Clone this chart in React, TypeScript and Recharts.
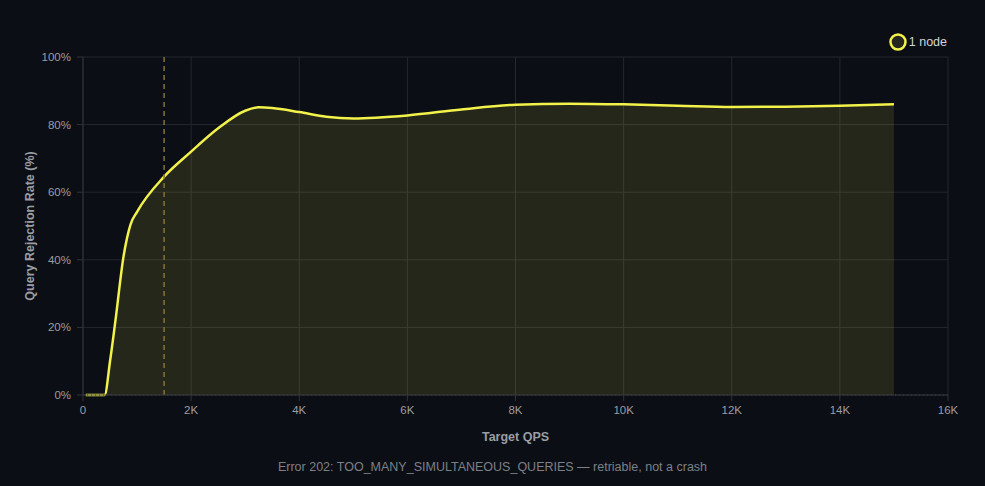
import { ComposedChart, Area, XAxis, YAxis, CartesianGrid, ReferenceLine } from 'recharts';

const qps = [50, 400, 500, 600, 750, 880, 1000, 1500, 2000, 2500, 3000, 3250, 3500, 4000, 4500, 5000, 6000, 7000, 8000, 9000, 10000, 11000, 12000, 13000, 14000, 15000];
const rejectionRate = [0, 0, 10, 22, 41, 50.5, 54.2, 64.6, 72, 78.9, 84.1, 85.1, 84.9, 83.7, 82.3, 81.8, 82.7, 84.5, 85.9, 86.2, 86, 85.6, 85.2, 85.3, 85.6, 86];
const xTicks = [0, 2000, 4000, 6000, 8000, 10000, 12000, 14000, 16000];
const yTicks = [0, 20, 40, 60, 80, 100];
const saturationQps = 1500;
const seriesName = '1 node';
const footnote = 'Error 202: TOO_MANY_SIMULTANEOUS_QUERIES \u2014 retriable, not a crash';

const data = qps.map((q, i) => ({ qps: q, rate: rejectionRate[i] }));

const YELLOW = '#f2f24a';
const FONT = 'Helvetica, Arial, "Liberation Sans", sans-serif';

export default function App() {
  return (
    <div style={{ position: 'absolute', left: 0, top: 0, width: 985, height: 486, background: '#0b0e15', fontFamily: FONT }}>
      <ComposedChart width={985} height={486} data={data} margin={{ top: 57, right: 37, bottom: 31, left: 0 }}>
        <CartesianGrid stroke="#24272d" />
        <XAxis
          dataKey="qps"
          type="number"
          domain={[0, 16000]}
          ticks={xTicks}
          tickFormatter={(v: number) => (v === 0 ? '0' : `${v / 1000}K`)}
          stroke="#30333a"
          tick={{ fill: '#9a9da3', fontSize: 11.5 }}
          tickSize={6}
          tickMargin={5}
          height={60}
          label={{ value: 'Target QPS', position: 'insideBottom', offset: 14, fill: '#9a9da3', fontSize: 12.5, fontWeight: 700 }}
        />
        <YAxis
          type="number"
          domain={[0, 100]}
          ticks={yTicks}
          tickFormatter={(v: number) => `${v}%`}
          stroke="#30333a"
          tick={{ fill: '#9a9da3', fontSize: 11.5 }}
          tickSize={6}
          tickMargin={6}
          width={83}
          label={{ value: 'Query Rejection Rate (%)', angle: -90, position: 'insideLeft', offset: 30, style: { textAnchor: 'middle' }, fill: '#9a9da3', fontSize: 12.5, fontWeight: 700 }}
        />
        <Area
          type="monotone"
          dataKey="rate"
          name={seriesName}
          stroke={YELLOW}
          strokeWidth={2.5}
          fill={YELLOW}
          fillOpacity={0.11}
          dot={false}
          activeDot={false}
          isAnimationActive={false}
        />
        <ReferenceLine y={0} stroke="#4a4a35" strokeDasharray="1 3" />
        <ReferenceLine x={saturationQps} stroke="#86722e" strokeWidth={1.5} strokeDasharray="5 4" />
      </ComposedChart>
      <div style={{ position: 'absolute', top: 32, right: 38, display: 'flex', alignItems: 'center' }}>
        <svg width={20} height={20}>
          <circle cx={10} cy={10} r={7.5} fill="#262820" stroke={YELLOW} strokeWidth={2.5} />
        </svg>
        <span style={{ color: '#d4d4d4', fontSize: 12.5, marginLeft: 1 }}>{seriesName}</span>
      </div>
      <div style={{ position: 'absolute', top: 460, left: 0, width: 985, textAlign: 'center', color: '#7d8087', fontSize: 12.5 }}>
        {footnote}
      </div>
    </div>
  );
}
